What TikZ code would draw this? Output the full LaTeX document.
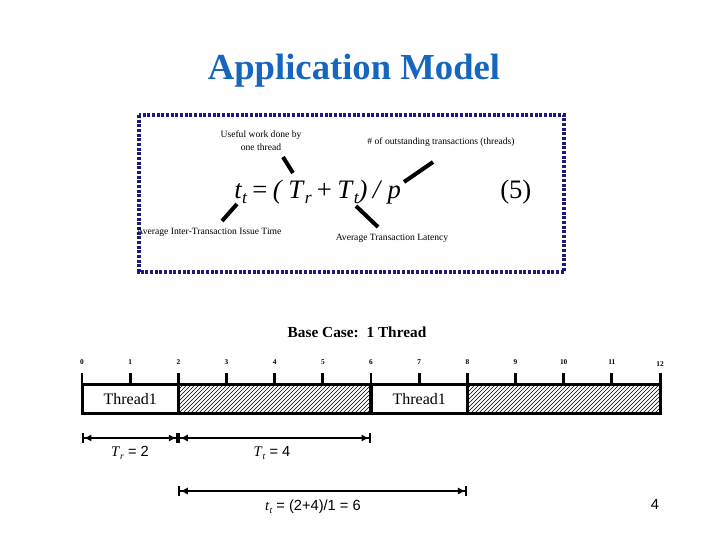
\documentclass[tikz,border=0pt]{standalone}
\usepackage{fontspec}
\setmainfont{Liberation Serif}
\setsansfont{Liberation Sans}
\usetikzlibrary{patterns,arrows.meta}
\definecolor{titleblue}{RGB}{22,102,192}
\definecolor{boxnavy}{RGB}{26,26,128}
\newcommand{\vi}[1]{\textit{#1}}
\newcommand{\sbi}[1]{\raisebox{-0.22em}{\scalebox{0.66}{\itshape #1}}}
\newcommand{\gap}{\hspace{0.2em}}
\begin{document}
\begin{tikzpicture}[x=0.75pt,y=-0.75pt,
  titletext/.style={font=\fontsize{27.5}{33}\bfseries\selectfont, text=titleblue},
  note/.style={font=\fontsize{7.2}{9.6}\selectfont, align=center, inner sep=0pt},
  pointer/.style={line width=3pt},
  ticklbl/.style={font=\fontsize{5.5}{6}\bfseries\selectfont, inner sep=0pt},
  tickline/.style={line width=2.2pt},
  slot/.style={draw, line width=2.2pt, minimum height=29*0.75pt, inner sep=0pt, font=\fontsize{12}{14}\selectfont},
  idle/.style={slot, pattern=north east lines},
  dimline/.style={line width=1.6pt, {Bar[width=7.5pt,line width=1.6pt]Latex[length=5.5pt,width=5.5pt]}-{Latex[length=5.5pt,width=5.5pt]Bar[width=7.5pt,line width=1.6pt]}},
  dimlbl/.style={font=\fontsize{11}{13}\sffamily\selectfont, inner sep=0pt}
]
\useasboundingbox (0,0) rectangle (720,540);

\node[titletext] (title) at (354,71) {Application Model};

\draw[boxnavy, line width=2.3pt, dash pattern=on 2.3pt off 1.2pt] (139,115) rectangle (564,272);

\node[font=\fontsize{20}{24}\selectfont, anchor=base west, inner sep=0pt] (eq) at (234,198)
  {\vi{t}\sbi{t}\gap=\gap\vi{(}\gap\vi{T}\sbi{r}\gap+\gap\vi{T}\sbi{t}\vi{)}\gap\vi{/}\gap\vi{p}};
\node[font=\fontsize{20}{24}\selectfont, anchor=base west, inner sep=0pt] (num) at (500,198) {(5)};

\node[note] (useful) at (261,141) {Useful work done by\\one thread};
\node[note] (threads) at (441,142) {\# of outstanding transactions (threads)};
\node[note] (inter) at (209,232) {Average Inter-Transaction Issue Time};
\node[note] (lat) at (392,238) {Average Transaction Latency};

\coordinate (u1) at (283,157); \coordinate (u2) at (293,173);
\coordinate (p1) at (433,162); \coordinate (p2) at (404,182);
\coordinate (i1) at (237,204); \coordinate (i2) at (222,221);
\coordinate (l1) at (356,206); \coordinate (l2) at (378,227);
\draw[pointer] (u1) -- (u2);
\draw[pointer] (p1) -- (p2);
\draw[pointer] (i1) -- (i2);
\draw[pointer] (l1) -- (l2);

\node[font=\fontsize{11.5}{14}\bfseries\selectfont] (base) at (357,332) {Base Case:\ \ 1 Thread};

\foreach \i in {0,...,12} {
  \pgfmathsetmacro{\xx}{82+48.17*\i}
  \coordinate (k\i) at (\xx,373);
  \coordinate (m\i) at (\xx,385);
  \draw[tickline] (k\i) -- (m\i);
}
\foreach \i in {0,...,11} {
  \pgfmathsetmacro{\xx}{82+48.17*\i}
  \node[ticklbl] (t\i) at (\xx,362) {\i};
}
\node[ticklbl] (t12) at (660,364) {12};

\node[slot, minimum width=96.3*0.75pt] (s1) at (130.2,399) {Thread1};
\node[idle, minimum width=192.7*0.75pt] (h1) at (274.5,399) {};
\node[slot, minimum width=96.3*0.75pt] (s2) at (419.2,399) {Thread1};
\node[idle, minimum width=192.7*0.75pt] (h2) at (563.8,399) {};

\coordinate (d0) at (82,438);
\coordinate (d2) at (178.3,438);
\coordinate (d6) at (371,438);
\coordinate (e2) at (178.3,491);
\coordinate (e8) at (467.4,491);
\draw[dimline] (d0) -- (d2);
\draw[dimline] (d2) -- (d6);
\draw[dimline] (e2) -- (e8);

\node[dimlbl] (trl) at (130,453) {\vi{\rmfamily T}\sbi{\rmfamily r} = 2};
\node[dimlbl] (ttl) at (272,453) {\vi{\rmfamily T}\sbi{\rmfamily t} = 4};
\node[dimlbl] (tl) at (313,507) {\vi{\rmfamily t}\sbi{\rmfamily t} = (2+4)/1 = 6};

\node[font=\fontsize{11}{13}\sffamily\selectfont] (page) at (655,504) {4};
\end{tikzpicture}
\end{document}
